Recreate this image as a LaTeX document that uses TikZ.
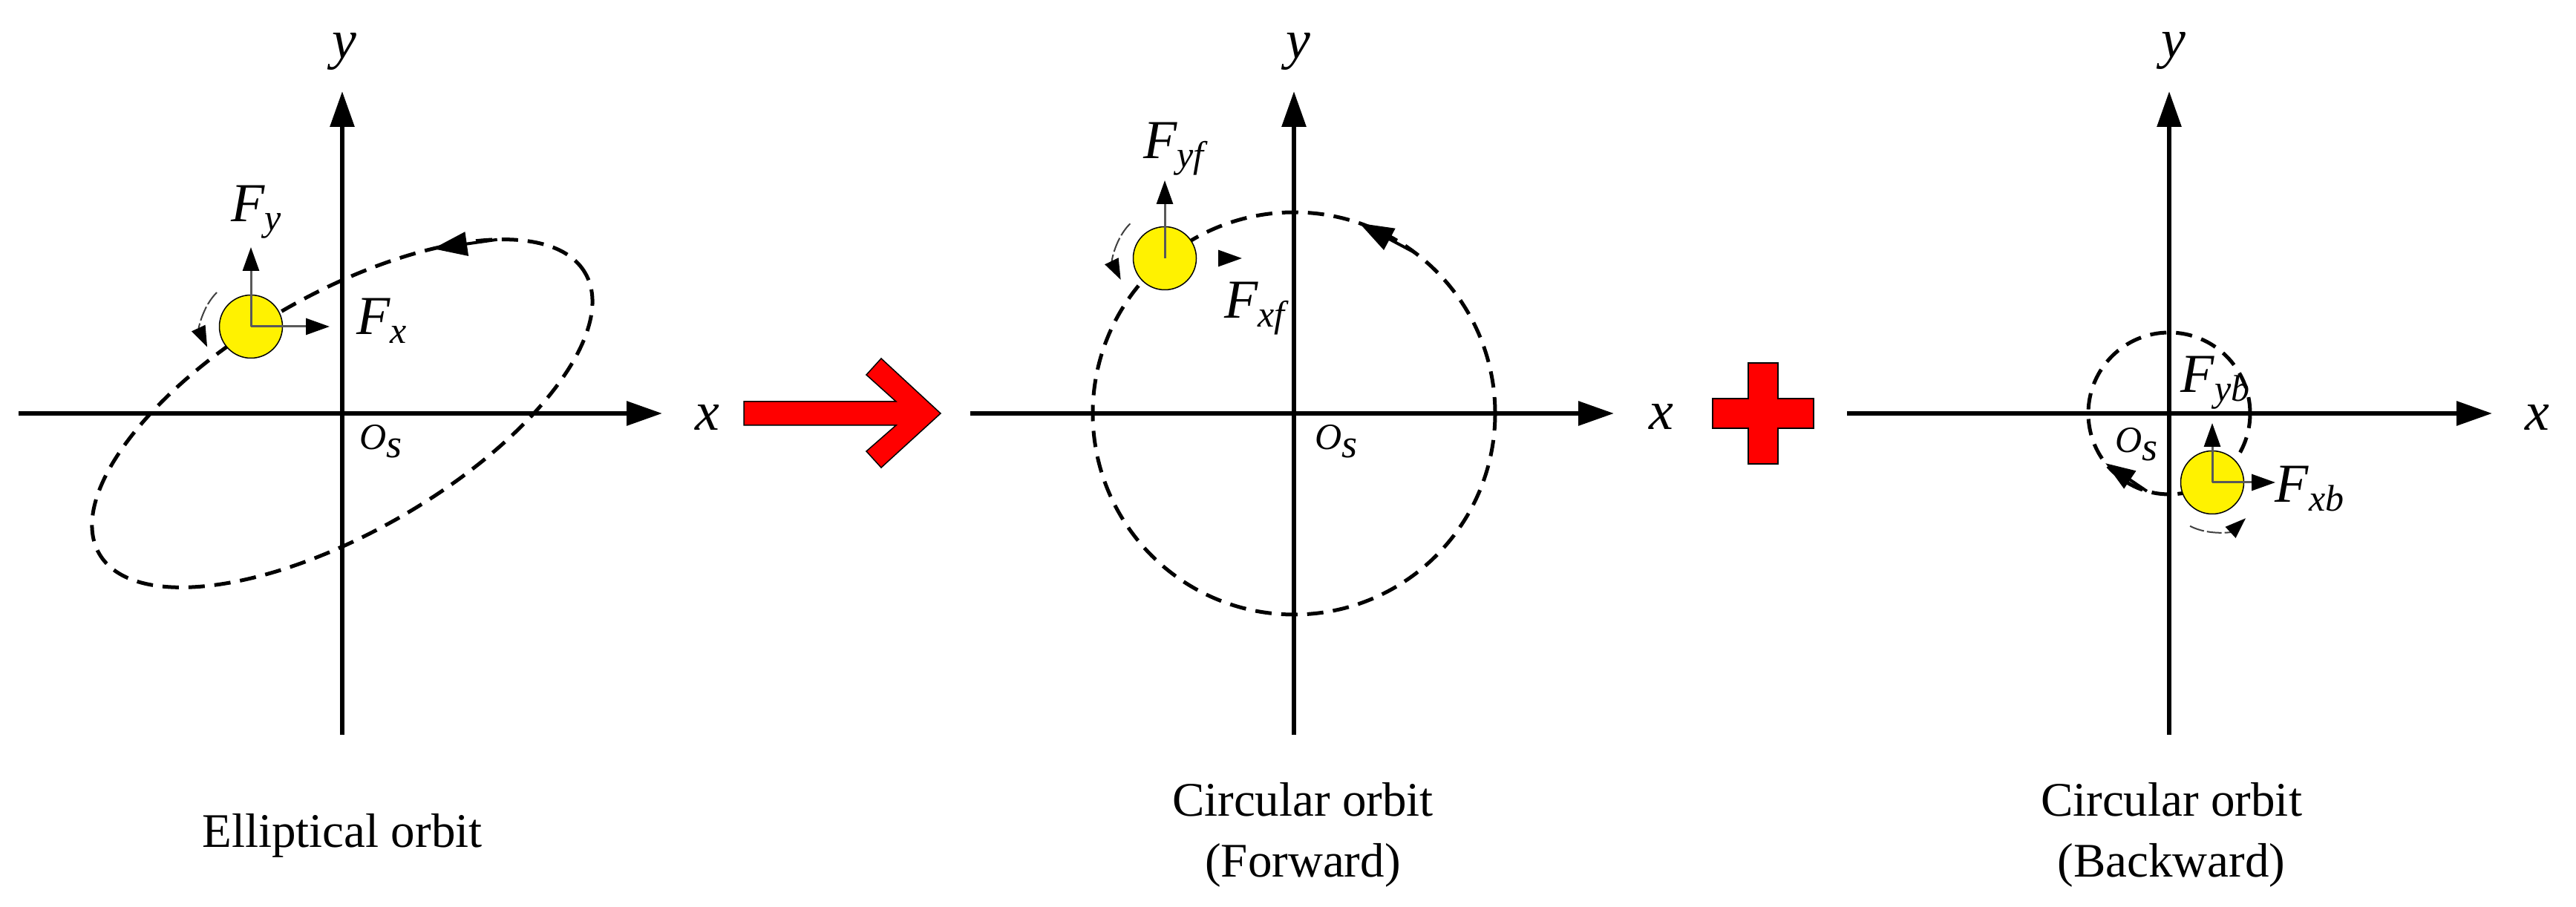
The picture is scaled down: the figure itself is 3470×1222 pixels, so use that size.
\documentclass[tikz,border=0pt]{standalone}
\usepackage{fontspec}
\setmainfont{Liberation Serif}
\usetikzlibrary{arrows.meta}
\newcommand\fsub[1]{\raisebox{-12pt}{\fontsize{50}{50}\selectfont\itshape #1}}
\newcommand\osub[1]{\raisebox{-11pt}{\fontsize{54}{54}\selectfont\itshape #1}}
\begin{document}
\begin{tikzpicture}[x=1pt,y=1pt,
  axis/.style={line width=6pt, -{Triangle[length=48pt,width=32pt]}},
  orbit/.style={line width=5pt, dash pattern=on 22pt off 13pt},
  orbittip/.style={line width=4pt, -{Triangle[length=46pt,width=32pt]}},
  orbittipsmall/.style={line width=4pt, -{Triangle[length=40pt,width=28pt]}},
  ball/.style={circle, fill=yellow, draw=black, line width=1.5pt, minimum size=85pt, inner sep=0pt},
  force/.style={line width=3pt, draw=black!65, -{Triangle[length=32pt,width=22pt,color=black]}},
  spin/.style={line width=2pt, draw=black!75, dash pattern=on 20pt off 4pt, -{Triangle[length=28pt,width=20pt,color=black]}},
  lab/.style={font=\fontsize{74}{74}\selectfont\itshape, inner sep=0pt},
  olab/.style={font=\fontsize{50}{50}\selectfont\itshape, inner sep=0pt},
  captext/.style={font=\fontsize{65}{80}\selectfont, inner sep=0pt, anchor=base},
  redshape/.style={fill=red, draw=black, line width=1.5pt, line join=miter}
]
\useasboundingbox (0,0) rectangle (3470,1222);

% ---------- left panel: elliptical orbit ----------
\begin{scope}[shift={(461,665)}]
  \coordinate (x1s) at (-436,0); \coordinate (x1e) at (431,0);
  \coordinate (y1s) at (0,-433); \coordinate (y1e) at (0,434);
  \draw[axis] (x1s) -- (x1e);
  \draw[axis] (y1s) -- (y1e);
  \begin{scope}[rotate=30]
    \draw[orbit] (0,0) ellipse [x radius=378, y radius=160];
    \draw[orbittip] ({378*cos(38)},{160*sin(38)}) -- ({378*cos(55)},{160*sin(55)});
  \end{scope}
  \node[lab] (xl1) at (492,-6) {x};
  \node[lab] (yl1) at (3,487) {y};
  \node[olab] (os1) at (52,-38) {O\osub{s}};
  \node[ball] (b1) at (-123,117) {};
  \coordinate (fy1) at (-123,224);
  \coordinate (fx1) at (-17,117);
  \draw[force] (b1.center) -- (fy1);
  \draw[force] (b1.center) -- (fx1);
  \draw[spin] (b1.center) ++(135:65) arc[start angle=135, end angle=205, radius=65];
  \node[lab] (Fy1) at (-116,271) {F\fsub{y}};
  \node[lab] (Fx1) at (53,125) {F\fsub{x}};
\end{scope}

% ---------- red arrow ----------
\draw[redshape] (1002,681) -- (1207,681) -- (1167,717) -- (1187,739) -- (1267,665)
  -- (1187,592) -- (1167,614) -- (1207,649) -- (1002,649) -- cycle;

% ---------- middle panel: forward circular orbit ----------
\begin{scope}[shift={(1743,665)}]
  \coordinate (x2s) at (-436,0); \coordinate (x2e) at (431,0);
  \coordinate (y2s) at (0,-433); \coordinate (y2e) at (0,434);
  \draw[axis] (x2s) -- (x2e);
  \draw[axis] (y2s) -- (y2e);
  \draw[orbit] (0,0) circle[radius=271];
  \draw[orbittip] (53:271) -- (71:271);
  \node[lab] (xl2) at (495,-5) {x};
  \node[lab] (yl2) at (6,487) {y};
  \node[olab] (os2) at (57,-38) {O\osub{s}};
  \node[ball] (b2) at (-174,209) {};
  \coordinate (fy2) at (-174,314);
  \coordinate (fx2a) at (-102,209);
  \coordinate (fx2b) at (-70,209);
  \draw[force] (b2.center) -- (fy2);
  \draw[force] (fx2a) -- (fx2b);
  \draw[spin] (b2.center) ++(135:66) arc[start angle=135, end angle=206, radius=66];
  \node[lab] (Fy2) at (-162,356) {F\fsub{yf}};
  \node[lab] (Fx2) at (-53,141) {F\fsub{xf}};
\end{scope}

% ---------- plus sign ----------
\draw[redshape] (2355,685) -- (2355,733) -- (2395,733) -- (2395,685) -- (2443,685)
  -- (2443,645) -- (2395,645) -- (2395,597) -- (2355,597) -- (2355,645)
  -- (2307,645) -- (2307,685) -- cycle;

% ---------- right panel: backward circular orbit ----------
\begin{scope}[shift={(2922,665)}]
  \coordinate (x3s) at (-434,0); \coordinate (x3e) at (435,0);
  \coordinate (y3s) at (0,-433); \coordinate (y3e) at (0,434);
  \draw[axis] (x3s) -- (x3e);
  \draw[axis] (y3s) -- (y3e);
  \draw[orbit] (0,0) circle[radius=109];
  \draw[orbittipsmall] (254:109) -- (218:109);
  \node[lab] (xl3) at (496,-6) {x};
  \node[lab] (yl3) at (6,488) {y};
  \node[olab] (os3) at (-44,-42) {O\osub{s}};
  \node[ball] (b3) at (58,-93) {};
  \coordinate (fy3) at (58,-13);
  \coordinate (fx3) at (143,-93);
  \draw[force] (b3.center) -- (fy3);
  \draw[force] (b3.center) -- (fx3);
  \draw[spin] (b3.center) ++(243:66) arc[start angle=243, end angle=313, radius=66];
  \node[lab] (Fy3) at (62,41) {F\fsub{yb}};
  \node[lab] (Fx3) at (189,-102) {F\fsub{xb}};
\end{scope}

% ---------- captions ----------
\node[captext] (cap1) at (461,80) {Elliptical orbit};
\node[captext] (cap2a) at (1755,122) {Circular orbit};
\node[captext] (cap2b) at (1755,40) {(Forward)};
\node[captext] (cap3a) at (2925,122) {Circular orbit};
\node[captext] (cap3b) at (2925,40) {(Backward)};
\end{tikzpicture}
\end{document}
